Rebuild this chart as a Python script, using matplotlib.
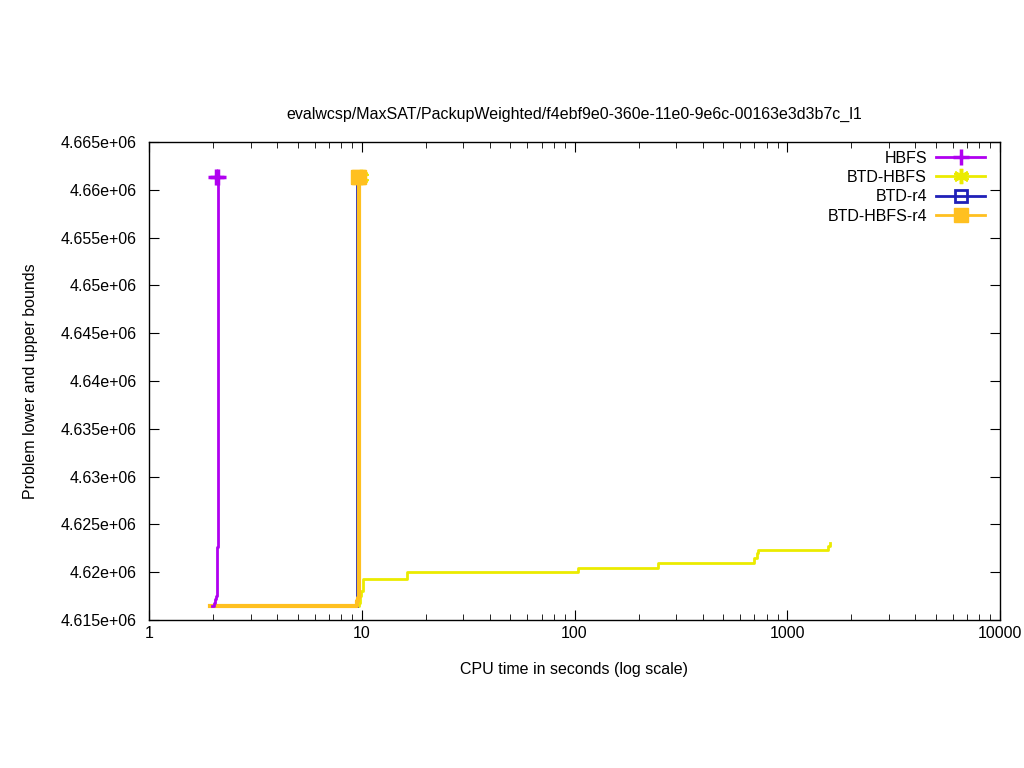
import numpy as np
import matplotlib.pyplot as plt
from matplotlib.ticker import FixedLocator, LogLocator, NullFormatter
from matplotlib.lines import Line2D

plt.rcParams['font.family'] = ['Liberation Sans', 'DejaVu Sans']

title = 'evalwcsp/MaxSAT/PackupWeighted/f4ebf9e0-360e-11e0-9e6c-00163e3d3b7c_l1'

# lower bound curves (time, bound) as steps, upper bound marker (time, bound)
hbfs_t = [1.97, 2.02, 2.05, 2.07, 2.09, 2.11]
hbfs_v = [4616460, 4616800, 4617200, 4617500, 4622640, 4661340]
hbfs_ub_t = [2.06, 2.11]
hbfs_ub_v = [4661340, 4661340]

btd_hbfs_t = [9.6, 9.75, 9.85, 9.95, 10.15, 16.3, 103.9, 247, 698, 720, 729, 1554, 1588]
btd_hbfs_v = [4616460, 4616800, 4617500, 4618000, 4619290, 4620020, 4620440, 4620960,
              4621500, 4622000, 4622320, 4622700, 4623050]
btd_hbfs_ub_t = [9.9]
btd_hbfs_ub_v = [4661340]

btd_r4_t = [9.5, 9.5]
btd_r4_v = [4616460, 4660700]
btd_r4_ub_t = [9.62]
btd_r4_ub_v = [4661340]

btd_hbfs_r4_t = [1.94, 9.55, 9.65, 9.7]
btd_hbfs_r4_v = [4616460, 4617000, 4617300, 4661340]
btd_hbfs_r4_ub_t = [9.6, 9.72]
btd_hbfs_r4_ub_v = [4661340, 4661340]

c_hbfs = '#B000F0'
c_btd_hbfs = '#EBEB00'
c_btd_r4 = '#2020B8'
c_btd_hbfs_r4 = '#FFC020'

fs = 11.5
fig = plt.figure(figsize=(10.24, 7.68), dpi=100)
ax = fig.add_axes([149/1024, 1-620/768, (1000-149)/1024, (620-142)/768])

lw = 2.0
ax.plot(hbfs_t, hbfs_v, color=c_hbfs, lw=lw, drawstyle='steps-post', zorder=3)
ax.plot(hbfs_ub_t, hbfs_ub_v, ls='none', marker='+', ms=12, mew=2.5, color=c_hbfs, zorder=3)

ax.plot(btd_hbfs_t, btd_hbfs_v, color=c_btd_hbfs, lw=lw, drawstyle='steps-post', zorder=2)
ax.plot(btd_hbfs_ub_t, btd_hbfs_ub_v, ls='none', marker=(6, 2, 0), ms=11, mew=2.5,
        color=c_btd_hbfs, zorder=2)

ax.plot(btd_r4_t, btd_r4_v, color=c_btd_r4, lw=lw, zorder=2)
ax.plot(btd_r4_ub_t, btd_r4_ub_v, ls='none', marker='s', ms=8, mew=2,
        mfc='none', color=c_btd_r4, zorder=2)

ax.plot(btd_hbfs_r4_t, btd_hbfs_r4_v, color=c_btd_hbfs_r4, lw=lw + 1,
        drawstyle='steps-post', zorder=2.5)
ax.plot(btd_hbfs_r4_ub_t, btd_hbfs_r4_ub_v, ls='none', marker='s', ms=10,
        color=c_btd_hbfs_r4, zorder=2.5)

ax.set_xscale('log')
ax.set_xlim(1, 10000)
ax.set_ylim(4615000, 4665000)
yt = np.arange(4615000, 4665001, 5000)
ax.yaxis.set_major_locator(FixedLocator(yt))
ax.set_yticklabels(['%ge+06' % (v / 1e6) for v in yt])
ax.xaxis.set_major_locator(FixedLocator([1, 10, 100, 1000, 10000]))
ax.set_xticklabels(['1', '10', '100', '1000', '10000'])
ax.xaxis.set_minor_locator(LogLocator(base=10, subs=np.arange(2, 10), numticks=20))
ax.xaxis.set_minor_formatter(NullFormatter())
ax.tick_params(which='both', direction='in', top=True, right=True, labelsize=fs)
ax.tick_params(which='major', length=7)
ax.tick_params(which='minor', length=4)
ax.tick_params(axis='y', pad=9)
ax.tick_params(axis='x', pad=4)
for s in ax.spines.values():
    s.set_linewidth(1)

ax.set_title(title, fontsize=fs, pad=17)
ax.set_xlabel('CPU time in seconds (log scale)', fontsize=fs, labelpad=15.5)
ax.set_ylabel('Problem lower and upper bounds', fontsize=fs, labelpad=16)

handles = [
    Line2D([], [], color=c_hbfs, lw=lw, marker='+', ms=12, mew=2.5),
    Line2D([], [], color=c_btd_hbfs, lw=lw, marker=(6, 2, 0), ms=11, mew=2.5),
    Line2D([], [], color=c_btd_r4, lw=lw, marker='s', ms=8, mew=2, mfc='none'),
    Line2D([], [], color=c_btd_hbfs_r4, lw=lw, marker='s', ms=10),
]
labels = ['HBFS', 'BTD-HBFS', 'BTD-r4', 'BTD-HBFS-r4']
ax.legend(handles, labels, loc='upper right', frameon=False, fontsize=fs,
          markerfirst=False, handlelength=3.1, labelspacing=0.27,
          borderaxespad=0.3, handletextpad=0.55, borderpad=0.3,
          bbox_to_anchor=(0.994, 1.002))

fig.savefig('out.png', dpi=100)
